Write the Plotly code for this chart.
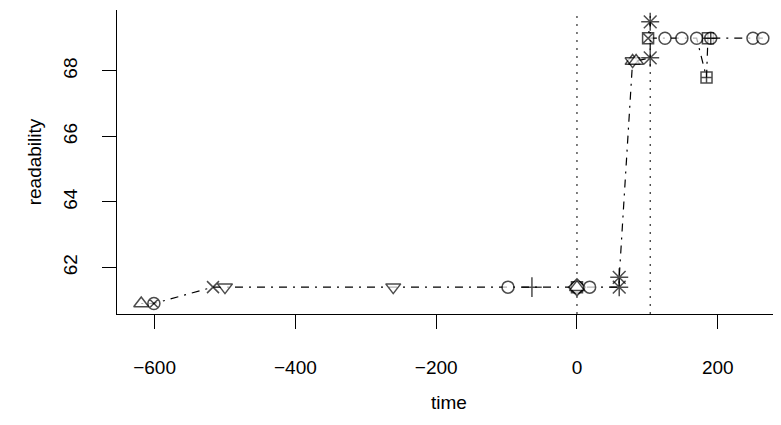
import plotly.graph_objects as go

# observations (ordered as connected in the original)
time = [-619, -601, -517, -500, -261, -98, -64, 0, 0, 0, 0, 18, 60, 60, 79, 79, 84, 104, 104, 101, 125, 149, 170, 184, 186, 190, 250, 264]
readability = [60.9, 60.9, 61.4, 61.4, 61.4, 61.4, 61.4, 61.4, 61.4, 61.4, 61.4, 61.4, 61.4, 61.7, 68.3, 68.3, 68.3, 68.4, 69.5, 69.0, 69.0, 69.0, 69.0, 67.8, 69.0, 69.0, 69.0, 69.0]
symbols = ["triangle-up", "circle-x", "x-thin-open", "triangle-down", "triangle-down", "circle", "cross-thin-open",
           "square", "circle", "diamond", "triangle-up", "circle", "asterisk-open", "asterisk-open",
           "triangle-up", "triangle-down", "triangle-up", "asterisk-open", "asterisk-open", "square-x",
           "circle", "circle", "circle", "square-cross", "square-cross", "circle-cross", "circle", "circle"]
sizes = [13, 12, 12, 13, 13, 12, 14, 11, 12, 13, 13, 12, 15, 15, 13, 13, 13, 15, 15, 11, 12, 12, 12, 11, 11, 12, 12, 12]
vlines = [0, 104]

x_ticks = [-600, -400, -200, 0, 200]
y_ticks = [62, 64, 66, 68]

colors = ["black" if s.endswith("-open") else "white" for s in symbols]

fig = go.Figure()

for v in vlines:
    fig.add_trace(go.Scatter(x=[v, v], y=[60.58, 69.86], mode="lines",
                             line=dict(color="black", width=1, dash="2px,6px"),
                             hoverinfo="skip", showlegend=False))

fig.add_trace(go.Scatter(x=time, y=readability, mode="lines",
                         line=dict(color="black", width=1.2, dash="2px,6px,8px,6px"),
                         showlegend=False))

fig.add_trace(go.Scatter(x=time, y=readability, mode="markers",
                         marker=dict(symbol=symbols, size=sizes, color=colors,
                                     line=dict(color="black", width=1.5)),
                         showlegend=False))

font = dict(family="Liberation Sans, Arial, sans-serif", size=19, color="black")

fig.update_layout(
    width=781, height=425,
    paper_bgcolor="white", plot_bgcolor="white",
    margin=dict(l=109, r=8, t=2, b=119),
    font=font,
    xaxis=dict(range=[-653.4, 289.8], tickvals=x_ticks, showgrid=False, zeroline=False,
               showline=True, linecolor="black", linewidth=1.2, ticks="outside", ticklen=14,
               tickwidth=1.2, tickcolor="black", tickfont=font, ticklabelstandoff=22,
               title=dict(text="time", font=font, standoff=18)),
    yaxis=dict(range=[60.58, 69.86], tickvals=y_ticks, showgrid=False, zeroline=False,
               showline=True, linecolor="black", linewidth=1.2, ticks="outside", ticklen=14,
               tickwidth=1.2, tickcolor="black", tickfont=font, tickangle=-90, ticklabelstandoff=17,
               title=dict(text="readability", font=font, standoff=13)),
)

fig.write_html("out.html")
